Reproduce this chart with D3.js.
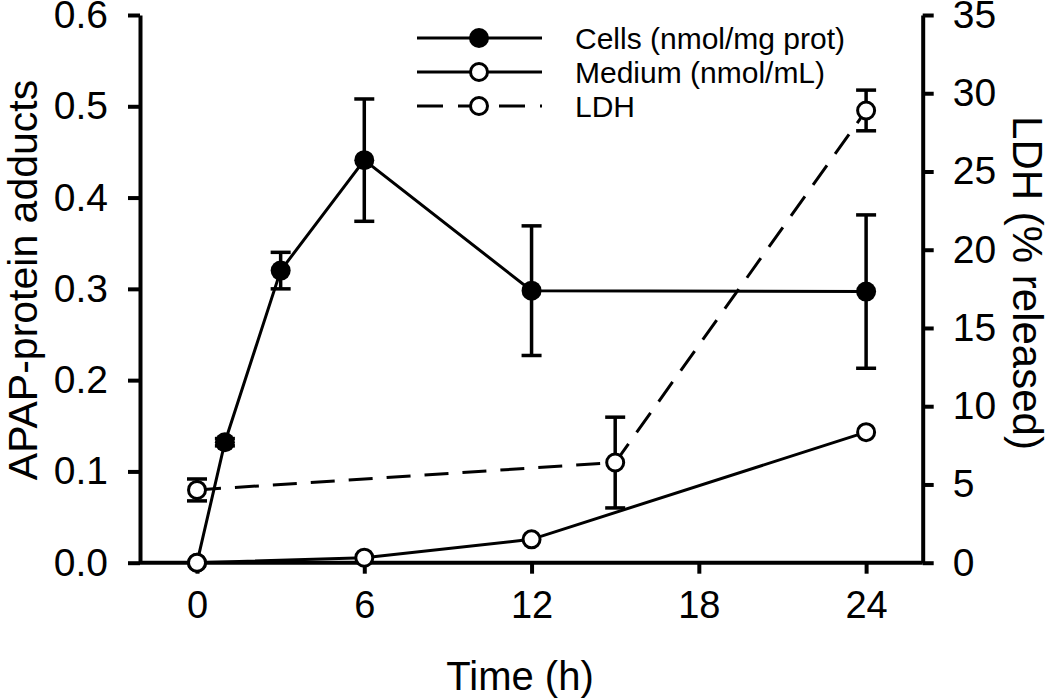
<!DOCTYPE html>
<html>
<head>
<meta charset="utf-8">
<script src="https://cdn.jsdelivr.net/npm/d3@7"></script>
<style>
  body { margin: 0; background: #fff; }
  svg text { font-family: Arial, "Liberation Sans", sans-serif; fill: #000; }
</style>
</head>
<body>
<div id="chart"></div>
<script>
// time points (h)
const cellTimes = [0, 1, 3, 6, 12, 24];
const cellValues = [0, 0.132, 0.32, 0.441, 0.298, 0.297];
const cellErr = [0, 0.004, 0.02, 0.067, 0.071, 0.084];

const mediumTimes = [0, 6, 12, 24];
const mediumValues = [0, 0.0055, 0.0256, 0.143];

const ldhTimes = [0, 15, 24];
const ldhValues = [4.65, 6.4, 28.9];
const ldhErr = [0.7, 2.9, 1.3];

const xTicks = [0, 6, 12, 18, 24];
const yLeftTicks = [0, 0.1, 0.2, 0.3, 0.4, 0.5, 0.6];
const yRightTicks = [0, 5, 10, 15, 20, 25, 30, 35];

const legendLabels = ["Cells (nmol/mg prot)", "Medium (nmol/mL)", "LDH"];

const width = 1050, height = 700;
const plotLeft = 140, plotRight = 922.7, plotTop = 15, plotBottom = 562.7;

const x = d3.scaleLinear().domain([-2.045, 26.03]).range([plotLeft, plotRight]);
const y = d3.scaleLinear().domain([0, 0.6]).range([plotBottom, plotTop]);
const y2 = d3.scaleLinear().domain([0, 35]).range([plotBottom, plotTop]);

const svg = d3.select("#chart").append("svg")
    .attr("width", width)
    .attr("height", height);

// axes
const xAxis = svg.append("g")
    .attr("transform", `translate(0,${plotBottom})`)
    .call(d3.axisBottom(x).tickValues(xTicks).tickSize(11).tickPadding(17).tickSizeOuter(0));
const yAxis = svg.append("g")
    .attr("transform", `translate(${plotLeft},0)`)
    .call(d3.axisLeft(y).tickValues(yLeftTicks).tickFormat(d3.format(".1f")).tickSize(12).tickPadding(20).tickSizeOuter(0));
const y2Axis = svg.append("g")
    .attr("transform", `translate(${plotRight},0)`)
    .call(d3.axisRight(y2).tickValues(yRightTicks).tickSize(11).tickPadding(19).tickSizeOuter(0));

[xAxis, yAxis, y2Axis].forEach(a => {
    a.select(".domain").attr("stroke-width", 4);
    a.selectAll(".tick line").attr("stroke-width", 4);
    a.selectAll("text").attr("font-size", 39).attr("font-family", "Arial, 'Liberation Sans', sans-serif");
});
xAxis.selectAll("text").attr("font-size", 38);
// x domain line spans between the two y axes
xAxis.select(".domain").attr("d", `M${plotLeft},0H${plotRight}`);

svg.append("text")
    .attr("x", 520)
    .attr("y", 690)
    .attr("text-anchor", "middle")
    .attr("font-size", 40)
    .text("Time (h)");

svg.append("text")
    .attr("transform", `translate(37,280) rotate(-90)`)
    .attr("text-anchor", "middle")
    .attr("font-size", 41)
    .text("APAP-protein adducts");

svg.append("text")
    .attr("transform", `translate(1013,283) rotate(90)`)
    .attr("text-anchor", "middle")
    .attr("font-size", 42)
    .text("LDH (% released)");

const lineL = d3.line().x(d => x(d[0])).y(d => y(d[1]));
const lineR = d3.line().x(d => x(d[0])).y(d => y2(d[1]));

const cells = d3.zip(cellTimes, cellValues, cellErr);
const medium = d3.zip(mediumTimes, mediumValues);
const ldh = d3.zip(ldhTimes, ldhValues, ldhErr);

// lines
svg.append("path").datum(ldh)
    .attr("fill", "none").attr("stroke", "#000").attr("stroke-width", 3)
    .attr("stroke-dasharray", "24,14")
    .attr("d", lineR);
svg.append("path").datum(medium)
    .attr("fill", "none").attr("stroke", "#000").attr("stroke-width", 3)
    .attr("d", lineL);
svg.append("path").datum(cells)
    .attr("fill", "none").attr("stroke", "#000").attr("stroke-width", 3)
    .attr("d", lineL);

// error bars
function errorBars(data, ys) {
    const g = svg.append("g").attr("stroke", "#000").attr("stroke-width", 3.5);
    data.filter(d => d[2] > 0).forEach(d => {
        const cx = x(d[0]);
        const y0 = ys(d[1] - d[2]), y1 = ys(d[1] + d[2]);
        g.append("line").attr("x1", cx).attr("x2", cx).attr("y1", y0).attr("y2", y1);
        g.append("line").attr("x1", cx - 10).attr("x2", cx + 10).attr("y1", y0).attr("y2", y0);
        g.append("line").attr("x1", cx - 10).attr("x2", cx + 10).attr("y1", y1).attr("y2", y1);
    });
}
errorBars(cells, y);
errorBars(ldh, y2);

// markers
svg.append("g").selectAll("circle").data(cells).join("circle")
    .attr("cx", d => x(d[0])).attr("cy", d => y(d[1])).attr("r", 10)
    .attr("fill", "#000");
svg.append("g").selectAll("circle").data(ldh).join("circle")
    .attr("cx", d => x(d[0])).attr("cy", d => y2(d[1])).attr("r", 8.5)
    .attr("fill", "#fff").attr("stroke", "#000").attr("stroke-width", 3);
svg.append("g").selectAll("circle").data(medium).join("circle")
    .attr("cx", d => x(d[0])).attr("cy", d => y(d[1])).attr("r", 8.5)
    .attr("fill", "#fff").attr("stroke", "#000").attr("stroke-width", 3);

// legend
const legend = svg.append("g");
const legendY = [38, 72, 106];
legendLabels.forEach((lab, i) => {
    const gy = legendY[i];
    const ln = legend.append("line")
        .attr("x1", 417).attr("x2", 542).attr("y1", gy).attr("y2", gy)
        .attr("stroke", "#000").attr("stroke-width", 3);
    if (i === 2) ln.attr("stroke-dasharray", "26,15");
    legend.append("circle")
        .attr("cx", 479).attr("cy", gy).attr("r", i === 0 ? 10 : 8.5)
        .attr("fill", i === 0 ? "#000" : "#fff")
        .attr("stroke", "#000").attr("stroke-width", i === 0 ? 0 : 3);
    legend.append("text")
        .attr("x", 575).attr("y", gy)
        .attr("dy", "0.35em")
        .attr("font-size", 30)
        .text(lab);
});
</script>
</body>
</html>
